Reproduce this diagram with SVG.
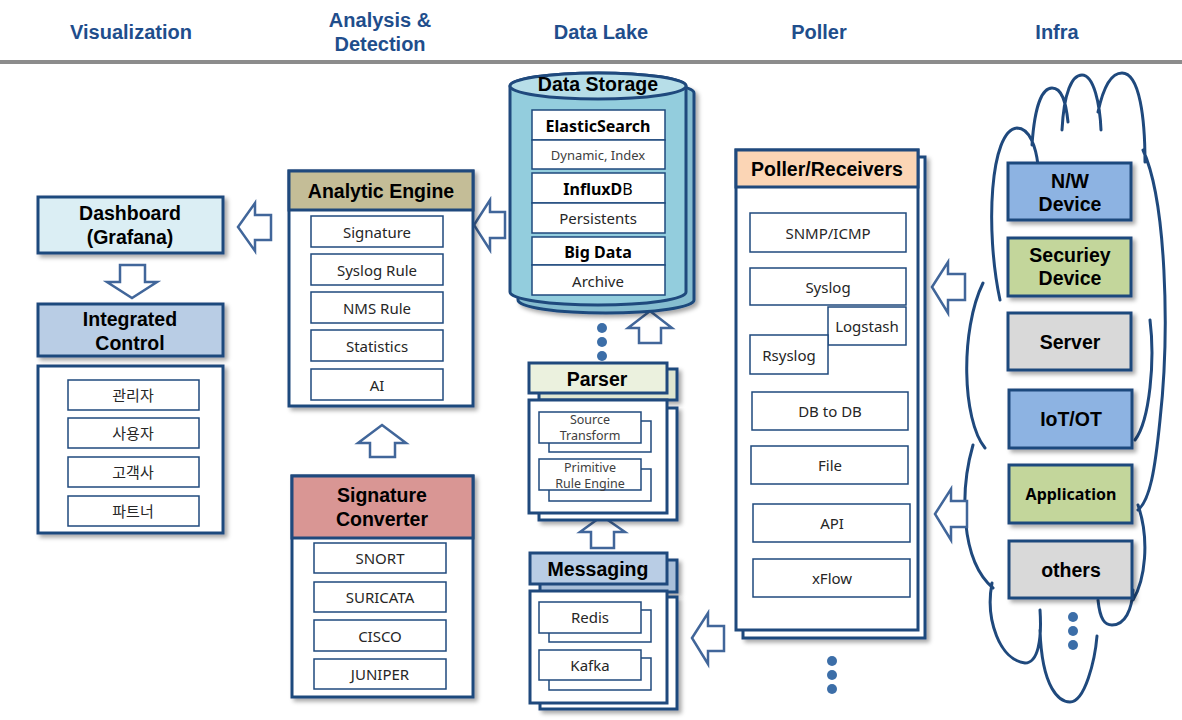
<svg xmlns="http://www.w3.org/2000/svg" width="1182" height="720" viewBox="0 0 1182 720">
<defs>
<filter id="sh" x="-10%" y="-10%" width="130%" height="130%"><feDropShadow dx="3" dy="3" stdDeviation="2" flood-color="#000" flood-opacity="0.35"/></filter>
<style>
.hd{font-family:"Liberation Sans",Arial,sans-serif;font-weight:bold;font-size:20px;fill:#1f4e8c;text-anchor:middle}
.box{stroke:#1f497d;stroke-width:3}
.ib{fill:#fff;stroke:#1f497d;stroke-width:1.5}
.t{font-family:"Noto Sans","Noto Sans CJK KR",sans-serif;text-anchor:middle;dominant-baseline:central}
.tb{font-family:"Liberation Sans",Arial,sans-serif;font-weight:bold;font-size:19.5px;fill:#000}
.ti{font-size:15px;fill:#262626}
.ts{font-size:13px;fill:#404040}
.tx{font-size:12.5px;fill:#404040}
.ar{fill:#fff;stroke:#41669a;stroke-width:2.5;stroke-linejoin:miter}
.dot{fill:#3c6ea8}
.cl{fill:none;stroke:#1f497d;stroke-width:3;stroke-linecap:round}
</style>
</defs>
<rect width="1182" height="720" fill="#fff"/>
<g id="header">
<text class="hd" x="131" y="39">Visualization</text>
<text class="hd" x="380" y="27">Analysis &amp;</text>
<text class="hd" x="380" y="51">Detection</text>
<text class="hd" x="601" y="39">Data Lake</text>
<text class="hd" x="819" y="39">Poller</text>
<text class="hd" x="1057" y="39">Infra</text>
<rect x="0" y="60" width="1182" height="4" fill="#8c8c8c"/>
</g>
<g id="cloud">
<path d="M1000,300 C985,230 990,130 1017,128 C1030,128 1036,148 1038,165 M1032,145 C1035,100 1044,88 1052,88 C1062,88 1066,102 1068,122 M1062,130 C1064,92 1072,75 1082,75 C1094,75 1100,105 1101,130 M1098,112 C1104,84 1112,73 1122,73 C1140,73 1145,120 1145,162 M1143,150 C1166,200 1170,330 1160,420 C1155,470 1150,500 1138,510 M1150,320 C1155,360 1150,420 1135,440 M983,283 C960,330 962,420 985,448 M973,445 C960,490 960,560 993,588 M992,583 C985,620 1000,660 1025,663 C1038,663 1042,640 1040,610 M1040,630 C1042,690 1060,702 1070,702 C1085,702 1095,660 1097,636 M1098,600 C1100,620 1105,625 1112,625 C1125,625 1132,610 1133,590 M1133,600 C1145,580 1150,540 1138,505" class="cl"/>
</g>
<g id="connectors">
<polygon class="ar" points="238,227 255,203 255,215 271,215 271,240 255,240 255,251"/>
<polygon class="ar" points="120,265 145,265 145,282 157,282 132,298 107,282 120,282"/>
<polygon class="ar" points="474,225 490,200 490,212 505,212 505,238 490,238 490,250"/>
<polygon class="ar" points="382,425 406,443 395,443 395,457 370,457 370,443 358,443"/>
<polygon class="ar" points="650,311 672,328 661,328 661,343 639,343 639,328 628,328"/>
<polygon class="ar" points="602,516 625,532 614,532 614,548 591,548 591,532 580,532"/>
<polygon class="ar" points="692,638 708,613 708,626 724,626 724,651 708,651 708,664"/>
<polygon class="ar" points="932,287 948,262 948,274 965,274 965,300 948,300 948,313"/>
<polygon class="ar" points="935,514 951,489 951,501 967,501 967,527 951,527 951,540"/>
<circle class="dot" cx="602" cy="328" r="5"/><circle class="dot" cx="602" cy="342" r="5"/><circle class="dot" cx="602" cy="356" r="5"/>
<circle class="dot" cx="832" cy="661" r="5"/><circle class="dot" cx="832" cy="675" r="5"/><circle class="dot" cx="832" cy="689" r="5"/>
<circle class="dot" cx="1073" cy="617" r="5"/><circle class="dot" cx="1073" cy="631" r="5"/><circle class="dot" cx="1073" cy="645" r="5"/>
</g>
<g id="dashboard">
<rect class="box" x="38" y="197" width="185" height="56" fill="#dbeef4" filter="url(#sh)"/>
<text class="t tb" x="130" y="213">Dashboard</text>
<text class="t tb" x="130" y="237">(Grafana)</text>
</g>
<g id="integrated-control">
<rect class="box" x="38" y="304" width="185" height="52" fill="#b9cde5" filter="url(#sh)"/>
<text class="t tb" x="130" y="319">Integrated</text>
<text class="t tb" x="130" y="343">Control</text>
<rect class="box" x="38" y="366" width="185" height="167" fill="#fff" filter="url(#sh)"/>
<rect class="ib" x="68" y="380" width="131" height="30"/><text class="t ti" x="133" y="395">관리자</text>
<rect class="ib" x="68" y="418" width="131" height="30"/><text class="t ti" x="133" y="433">사용자</text>
<rect class="ib" x="68" y="457" width="131" height="30"/><text class="t ti" x="133" y="472">고객사</text>
<rect class="ib" x="68" y="496" width="131" height="30"/><text class="t ti" x="133" y="511">파트너</text>
</g>
<g id="analytic-engine">
<rect class="box" x="289" y="171" width="184" height="235" fill="#fff" filter="url(#sh)"/>
<rect class="box" x="289" y="171" width="184" height="39" fill="#c4bd97"/>
<text class="t tb" x="381" y="191">Analytic Engine</text>
<rect class="ib" x="311" y="216" width="132" height="31"/><text class="t ti" x="377" y="232">Signature</text>
<rect class="ib" x="311" y="254" width="132" height="31"/><text class="t ti" x="377" y="270">Syslog Rule</text>
<rect class="ib" x="311" y="292" width="132" height="31"/><text class="t ti" x="377" y="308">NMS Rule</text>
<rect class="ib" x="311" y="330" width="132" height="31"/><text class="t ti" x="377" y="346">Statistics</text>
<rect class="ib" x="311" y="369" width="132" height="31"/><text class="t ti" x="377" y="385">AI</text>
</g>
<g id="signature-converter">
<rect class="box" x="292" y="476" width="181" height="221" fill="#fff" filter="url(#sh)"/>
<rect class="box" x="292" y="476" width="181" height="62" fill="#d99694"/>
<text class="t tb" x="382" y="495">Signature</text>
<text class="t tb" x="382" y="519">Converter</text>
<rect class="ib" x="314" y="543" width="132" height="30"/><text class="t ti" x="380" y="558">SNORT</text>
<rect class="ib" x="314" y="582" width="132" height="30"/><text class="t ti" x="380" y="597">SURICATA</text>
<rect class="ib" x="314" y="620" width="132" height="31"/><text class="t ti" x="380" y="636">CISCO</text>
<rect class="ib" x="314" y="659" width="132" height="30"/><text class="t ti" x="380" y="674">JUNIPER</text>
</g>
<g id="data-storage">
<path class="box" d="M518,93 L518,300 A88,13 0 0 0 694,300 L694,93 A88,13 0 0 0 518,93 Z" fill="#86bdd0" filter="url(#sh)"/>
<path class="box" d="M510,86 L510,292 A88,13 0 0 0 686,292 L686,86 A88,13 0 0 0 510,86 Z" fill="#93cddd"/>
<ellipse class="box" cx="598" cy="86" rx="88" ry="13" fill="#b7dee8"/>
<text class="t tb" x="598" y="84">Data Storage</text>
<rect class="ib" x="532" y="110" width="133" height="30"/><text class="t" x="598" y="126" font-size="16" font-weight="bold">ElasticSearch</text>
<rect class="ib" x="532" y="140" width="133" height="29"/><text class="t ts" x="598" y="155">Dynamic, Index</text>
<rect class="ib" x="532" y="173" width="133" height="30"/><text class="t" x="598" y="189" font-size="16"><tspan font-weight="bold">InfluxD</tspan>B</text>
<rect class="ib" x="532" y="203" width="133" height="30"/><text class="t ti" x="598" y="218">Persistents</text>
<rect class="ib" x="532" y="237" width="133" height="28"/><text class="t" x="598" y="252" font-size="16" font-weight="bold">Big Data</text>
<rect class="ib" x="532" y="265" width="133" height="30"/><text class="t ti" x="598" y="281">Archive</text>
</g>
<g id="parser">
<rect class="box" x="539" y="369" width="138" height="31" fill="#dfe6d0" filter="url(#sh)"/>
<rect class="box" x="529" y="363" width="138" height="30" fill="#ebf1de"/>
<text class="t tb" x="597" y="379">Parser</text>
<rect class="box" x="539" y="408" width="138" height="112" fill="#fff" filter="url(#sh)"/>
<rect class="box" x="529" y="400" width="138" height="113" fill="#fff"/>
<rect class="ib" x="549" y="421" width="102" height="31"/>
<rect class="ib" x="539" y="412" width="102" height="31"/>
<text class="t tx" x="590" y="419">Source</text><text class="t tx" x="590" y="435">Transform</text>
<rect class="ib" x="549" y="469" width="102" height="32"/>
<rect class="ib" x="539" y="459" width="102" height="31"/>
<text class="t tx" x="590" y="467">Primitive</text><text class="t tx" x="590" y="483">Rule Engine</text>
</g>
<g id="messaging">
<rect class="box" x="540" y="560" width="137" height="32" fill="#a9bfd9" filter="url(#sh)"/>
<rect class="box" x="530" y="553" width="137" height="31" fill="#b9cde5"/>
<text class="t tb" x="598" y="569">Messaging</text>
<rect class="box" x="540" y="597" width="137" height="112" fill="#fff" filter="url(#sh)"/>
<rect class="box" x="530" y="591" width="137" height="112" fill="#fff"/>
<rect class="ib" x="549" y="610" width="102" height="32"/>
<rect class="ib" x="539" y="602" width="102" height="31"/><text class="t ti" x="590" y="617">Redis</text>
<rect class="ib" x="549" y="658" width="102" height="32"/>
<rect class="ib" x="539" y="650" width="102" height="30"/><text class="t ti" x="590" y="665">Kafka</text>
</g>
<g id="poller">
<rect class="box" x="743" y="157" width="182" height="481" fill="#fff" filter="url(#sh)"/>
<rect class="box" x="736" y="150" width="182" height="480" fill="#fff"/>
<rect class="box" x="736" y="150" width="182" height="37" fill="#fbd5b5"/>
<text class="t tb" x="827" y="169">Poller/Receivers</text>
<rect class="ib" x="750" y="213" width="156" height="39"/><text class="t ti" x="828" y="233">SNMP/ICMP</text>
<rect class="ib" x="750" y="268" width="156" height="37"/><text class="t ti" x="828" y="287">Syslog</text>
<rect class="ib" x="828" y="307" width="78" height="38"/><text class="t ti" x="867" y="326">Logstash</text>
<rect class="ib" x="750" y="335" width="78" height="39"/><text class="t ti" x="789" y="355">Rsyslog</text>
<rect class="ib" x="752" y="392" width="156" height="38"/><text class="t ti" x="830" y="411">DB to DB</text>
<rect class="ib" x="751" y="446" width="157" height="38"/><text class="t ti" x="830" y="465">File</text>
<rect class="ib" x="753" y="504" width="157" height="38"/><text class="t ti" x="832" y="523">API</text>
<rect class="ib" x="753" y="559" width="157" height="38"/><text class="t ti" x="832" y="578">xFlow</text>
</g>
<g id="nw-device"><rect class="box" x="1008" y="163" width="123" height="57" fill="#8db3e2" filter="url(#sh)"/><text class="t tb" x="1070" y="181">N/W</text><text class="t tb" x="1070" y="204">Device</text></g>
<g id="security-device"><rect class="box" x="1008" y="238" width="123" height="58" fill="#c3d69b" filter="url(#sh)"/><text class="t tb" x="1070" y="255">Securiey</text><text class="t tb" x="1070" y="278">Device</text></g>
<g id="server"><rect class="box" x="1008" y="313" width="123" height="57" fill="#d9d9d9" filter="url(#sh)"/><text class="t tb" x="1070" y="342">Server</text></g>
<g id="iot-ot"><rect class="box" x="1009" y="390" width="123" height="58" fill="#8db3e2" filter="url(#sh)"/><text class="t tb" x="1071" y="419">IoT/OT</text></g>
<g id="application"><rect class="box" x="1009" y="465" width="123" height="58" fill="#c3d69b" filter="url(#sh)"/><text class="t" x="1071" y="494" font-size="16" font-weight="bold">Application</text></g>
<g id="others"><rect class="box" x="1009" y="541" width="123" height="57" fill="#d9d9d9" filter="url(#sh)"/><text class="t tb" x="1071" y="570">others</text></g>
</svg>
